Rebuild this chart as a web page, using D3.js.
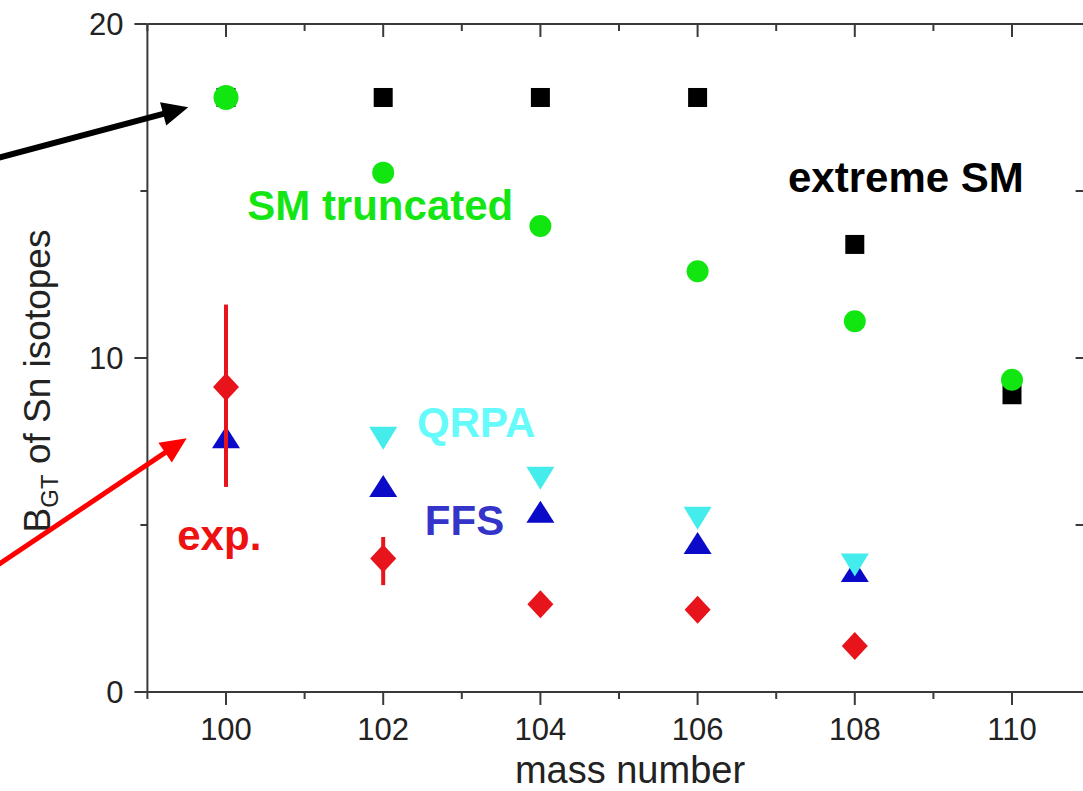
<!DOCTYPE html>
<html>
<head>
<meta charset="utf-8">
<script src="https://cdn.jsdelivr.net/npm/d3@7"></script>
<style>
  body { margin: 0; background: #fff; }
  svg { display: block; font-family: 'Liberation Sans', Arial, sans-serif; }
  .axis-line { stroke: #3a3a3a; stroke-width: 2; fill: none; }
  .tick-label { font-size: 31px; fill: #222; }
  .series-label { font-size: 42px; font-weight: bold; }
</style>
</head>
<body>
<div id="chart"></div>
<script>
const WIDTH = 1083
const HEIGHT = 791

// data
const masses      = [100, 102, 104, 106, 108, 110]
const extremeSM   = [17.8, 17.8, 17.8, 17.8, 13.4, 8.9]
const smTruncated = [17.8, 15.55, 13.95, 12.6, 11.1, 9.35]
const qrpa        = [null, 7.6, 6.4, 5.2, 3.8, null]
const ffs         = [7.63, 6.17, 5.4, 4.46, 3.62, null]
const expValue    = [9.13, 4.0, 2.63, 2.46, 1.38, null]
const expLow      = [6.14, 3.2, null, null, null, null]
const expHigh     = [11.6, 4.64, null, null, null, null]

const xTicks = [100, 102, 104, 106, 108, 110]
const xMinorTicks = [99, 101, 103, 105, 107, 109, 111]
const yTicks = [0, 10, 20]
const yMinorTicks = [5, 15]

let x = d3.scaleLinear().domain([99, 111]).range([147.4, 1090.6])
let y = d3.scaleLinear().domain([0, 20]).range([692, 24])

let svg = d3.select('#chart')
  .append('svg')
    .attr('width', WIDTH)
    .attr('height', HEIGHT)

let series = (vals) => masses.map((m, i) => ({ m: m, v: vals[i], i: i })).filter((d) => d.v != null)

// axes frame

let frame = svg.append('g')

frame.append('line').attr('class', 'axis-line')
  .attr('x1', x(99)).attr('x2', x(111)).attr('y1', y(0)).attr('y2', y(0))
frame.append('line').attr('class', 'axis-line')
  .attr('x1', x(99)).attr('x2', x(111)).attr('y1', y(20)).attr('y2', y(20))
frame.append('line').attr('class', 'axis-line')
  .attr('x1', x(99)).attr('x2', x(99)).attr('y1', y(0)).attr('y2', y(20))
frame.append('line').attr('class', 'axis-line')
  .attr('x1', x(111)).attr('x2', x(111)).attr('y1', y(0)).attr('y2', y(20))

// bottom (outward) and top (inward) ticks
xTicks.forEach((t) => {
  frame.append('line').attr('class', 'axis-line')
    .attr('x1', x(t)).attr('x2', x(t)).attr('y1', y(0)).attr('y2', y(0) + 13)
  frame.append('line').attr('class', 'axis-line')
    .attr('x1', x(t)).attr('x2', x(t)).attr('y1', y(20)).attr('y2', y(20) + 13)
})
xMinorTicks.forEach((t) => {
  frame.append('line').attr('class', 'axis-line')
    .attr('x1', x(t)).attr('x2', x(t)).attr('y1', y(0)).attr('y2', y(0) + 7)
  frame.append('line').attr('class', 'axis-line')
    .attr('x1', x(t)).attr('x2', x(t)).attr('y1', y(20)).attr('y2', y(20) + 7)
})

// left (outward) and right (inward) ticks
yTicks.forEach((t) => {
  frame.append('line').attr('class', 'axis-line')
    .attr('x1', x(99) - 13).attr('x2', x(99)).attr('y1', y(t)).attr('y2', y(t))
  frame.append('line').attr('class', 'axis-line')
    .attr('x1', x(111) - 15).attr('x2', x(111)).attr('y1', y(t)).attr('y2', y(t))
})
yMinorTicks.forEach((t) => {
  frame.append('line').attr('class', 'axis-line')
    .attr('x1', x(99) - 7).attr('x2', x(99)).attr('y1', y(t)).attr('y2', y(t))
  frame.append('line').attr('class', 'axis-line')
    .attr('x1', x(111) - 15).attr('x2', x(111)).attr('y1', y(t)).attr('y2', y(t))
})

frame.selectAll('.xlabel')
  .data(xTicks)
  .enter().append('text')
    .attr('class', 'tick-label')
    .attr('x', (d) => x(d))
    .attr('y', y(0) + 48)
    .attr('text-anchor', 'middle')
    .text((d) => d)

frame.selectAll('.ylabel')
  .data(yTicks)
  .enter().append('text')
    .attr('class', 'tick-label')
    .attr('x', x(99) - 24)
    .attr('y', (d) => y(d))
    .attr('dy', '0.36em')
    .attr('text-anchor', 'end')
    .text((d) => d)

svg.append('text')
  .attr('x', 630)
  .attr('y', 783)
  .attr('text-anchor', 'middle')
  .attr('font-size', 38)
  .attr('fill', '#222')
  .text('mass number')

let ylab = svg.append('text')
  .attr('transform', 'translate(50,' + 381 + ') rotate(-90)')
  .attr('text-anchor', 'middle')
  .attr('font-size', 37)
  .attr('fill', '#222')
ylab.append('tspan').text('B')
ylab.append('tspan').attr('font-size', 24).attr('dy', 8).text('GT')
ylab.append('tspan').attr('dy', -8).text(' of Sn isotopes')

// markers

let plot = svg.append('g')

plot.selectAll('.sq')
  .data(series(extremeSM))
  .enter().append('rect')
    .attr('x', (d) => x(d.m) - 9.5)
    .attr('y', (d) => y(d.v) - 9.5)
    .attr('width', 19)
    .attr('height', 19)
    .attr('fill', '#000')

plot.selectAll('.ci')
  .data(series(smTruncated))
  .enter().append('circle')
    .attr('cx', (d) => x(d.m))
    .attr('cy', (d) => y(d.v))
    .attr('r', (d) => d.i === 0 ? 12.5 : 11)
    .attr('fill', '#11e611')

let tri = (w, h, dir) => 'M' + (-w / 2) + ',' + (dir * h / 2) + 'L' + (w / 2) + ',' + (dir * h / 2) + 'L0,' + (-dir * h / 2) + 'Z'

plot.selectAll('.up')
  .data(series(ffs))
  .enter().append('path')
    .attr('transform', (d) => 'translate(' + x(d.m) + ',' + y(d.v) + ')')
    .attr('d', tri(28, 22, 1))
    .attr('fill', '#0a0ac8')

plot.selectAll('.down')
  .data(series(qrpa))
  .enter().append('path')
    .attr('transform', (d) => 'translate(' + x(d.m) + ',' + y(d.v) + ')')
    .attr('d', tri(28, 23, -1))
    .attr('fill', '#44ecec')

plot.selectAll('.err')
  .data(series(expHigh))
  .enter().append('line')
    .attr('x1', (d) => x(d.m))
    .attr('x2', (d) => x(d.m))
    .attr('y1', (d) => y(d.v))
    .attr('y2', (d) => y(expLow[d.i]))
    .attr('stroke', '#e8141c')
    .attr('stroke-width', 4)

plot.selectAll('.dia')
  .data(series(expValue))
  .enter().append('path')
    .attr('transform', (d) => 'translate(' + x(d.m) + ',' + y(d.v) + ')')
    .attr('d', 'M0,-14L13,0L0,14L-13,0Z')
    .attr('fill', '#e8141c')

// labels

let labels = svg.append('g').attr('class', 'series-label')

labels.append('text').attr('x', x(100.27)).attr('y', y(14.13)).attr('fill', '#14e614').text('SM truncated')
labels.append('text').attr('x', x(107.15)).attr('y', y(14.97)).attr('fill', '#000').text('extreme SM')
labels.append('text').attr('x', x(102.43)).attr('y', y(7.63)).attr('fill', '#66fbfb').text('QRPA')
labels.append('text').attr('x', x(102.53)).attr('y', y(4.70)).attr('fill', '#3434c8').text('FFS')
labels.append('text').attr('x', x(99.38)).attr('y', y(4.25)).attr('fill', '#ee1111').text('exp.')

// arrows (from outside the frame to the first points)

function arrow(x0, y0, x1, y1, color, sw) {
  let ax = x(x0), ay = y(y0), bx = x(x1), by = y(y1)
  let len = Math.hypot(bx - ax, by - ay)
  let ux = (bx - ax) / len, uy = (by - ay) / len
  let head = 26, half = 12
  let cx = bx - ux * head, cy = by - uy * head
  svg.append('line')
    .attr('x1', ax).attr('y1', ay)
    .attr('x2', cx + ux * 4).attr('y2', cy + uy * 4)
    .attr('stroke', color)
    .attr('stroke-width', sw)
  svg.append('path')
    .attr('d', 'M' + bx + ',' + by +
               'L' + (cx - uy * half) + ',' + (cy + ux * half) +
               'L' + (cx + uy * half) + ',' + (cy - ux * half) + 'Z')
    .attr('fill', color)
}

arrow(97.0, 15.93, 99.52, 17.51, '#000', 6)
arrow(97.0, 3.65, 99.50, 7.60, '#f00', 5)
</script>
</body>
</html>
